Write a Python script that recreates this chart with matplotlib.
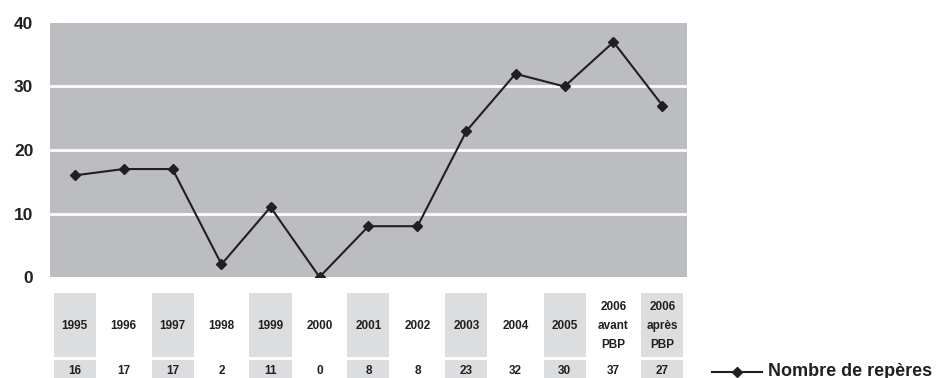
import matplotlib.pyplot as plt
from matplotlib.patches import Rectangle
from matplotlib.lines import Line2D
import matplotlib.transforms as mtransforms

plt.rcParams['font.family'] = ['Liberation Sans', 'DejaVu Sans']

categories = ["1995", "1996", "1997", "1998", "1999", "2000", "2001", "2002",
              "2003", "2004", "2005", "2006\navant\nPBP", "2006\naprès\nPBP"]
values = [16, 17, 17, 2, 11, 0, 8, 8, 23, 32, 30, 37, 27]
yticks = [0, 10, 20, 30, 40]

W, H = 937, 378
fig = plt.figure(figsize=(W / 100, H / 100), dpi=100)
ax = fig.add_axes([50 / W, 101 / H, 637 / W, 254 / H])
ax.set_facecolor("#bcbdc0")
for s in ax.spines.values():
    s.set_visible(False)

x = list(range(len(categories)))
ax.plot(x, values, color="#231f20", lw=1.5, marker="D", ms=5.5, zorder=3)
ax.set_xlim(-0.5, len(categories) - 0.5)
ax.set_ylim(0, 40)
ax.set_xticks([])
ax.set_yticks(yticks)
ax.tick_params(axis="y", length=0, pad=12, labelsize=12.5)
for lab in ax.get_yticklabels():
    lab.set_fontweight("bold")
    lab.set_color("#231f20")
for t in yticks[1:-1]:
    ax.axhline(t, color="white", lw=2, zorder=1)

# table below the axes
tr = mtransforms.blended_transform_factory(ax.transData, fig.transFigure)
cw = 42 / 49
cat_top, cat_bot = 1 - 293 / H, 1 - 357 / H
val_top, val_bot = 1 - 360 / H, 0
for i, (c, v) in enumerate(zip(categories, values)):
    if i % 2 == 0:
        for y0, y1 in [(cat_bot, cat_top), (val_bot, val_top)]:
            ax.add_patch(Rectangle((i - cw / 2, y0), cw, y1 - y0, transform=tr,
                                   facecolor="#dcdddf", edgecolor="none", clip_on=False))
    ax.text(i, 1 - 326 / H, c, transform=tr, ha="center", va="center",
            fontsize=8.5, fontweight="bold", color="#231f20", linespacing=1.75)
    ax.text(i, 1 - 371 / H, str(v), transform=tr, ha="center", va="center",
            fontsize=8.5, fontweight="bold", color="#231f20")

# legend
fig.add_artist(Line2D([712 / W, 762 / W], [1 - 372 / H] * 2, color="#231f20", lw=1.5))
fig.add_artist(Line2D([737 / W], [1 - 372 / H], color="#231f20", marker="D", ms=5))
fig.text(768 / W, 1 - 371 / H, "Nombre de repères", ha="left", va="center",
         fontsize=13, fontweight="bold", color="#231f20")

fig.savefig("out.png", dpi=100)
